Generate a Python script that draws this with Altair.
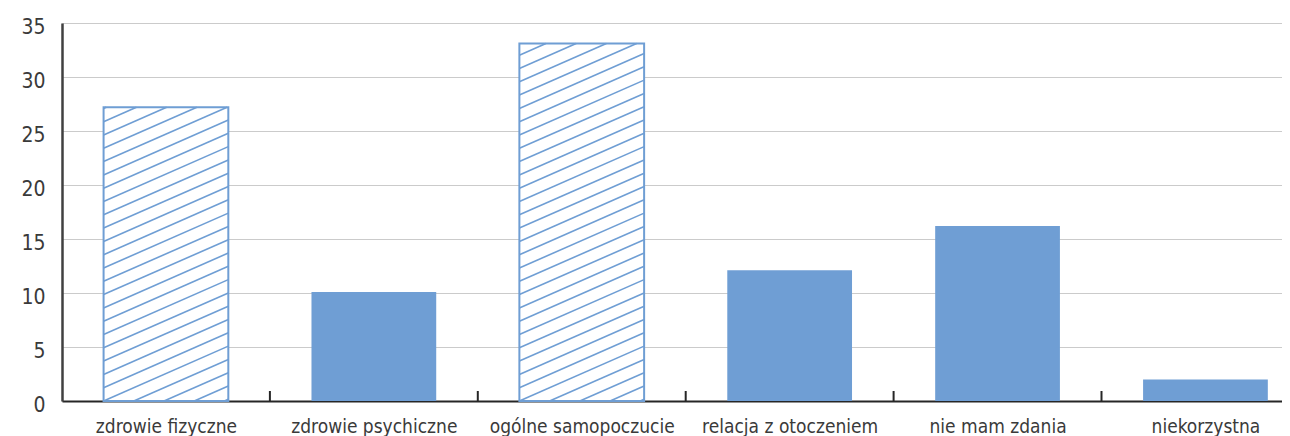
import altair as alt
import pandas as pd
import numpy as np

# ---- data ----
categories = ["zdrowie fizyczne", "zdrowie psychiczne", "ogólne samopoczucie",
              "relacja z otoczeniem", "nie mam zdania", "niekorzystna"]
values = [27.2, 10.1, 33.1, 12.1, 16.2, 2.0]
hatched = [True, False, True, False, False, False]
y_ticks = [0, 5, 10, 15, 20, 25, 30, 35]

# ---- style constants ----
BLUE = "#6f9ed4"
FONT = "DejaVu Sans Condensed, Liberation Sans Narrow, sans-serif"
LABEL_COLOR = "#3a3a3a"
BAND_PX = 207.9
PLOT_W = 1220
PLOT_H = 378
X_MAX = PLOT_W / BAND_PX        # right side of the last band is cut off
BAR_GAP = 0.2                   # fraction of band left empty on each side
HATCH_SLOPE = 0.44 * BAND_PX / (PLOT_H / 35)   # 0.44 px/px in data units
HATCH_DV = 13.3 / (PLOT_H / 35)                # vertical spacing, data units

rows = []
for i, (c, v, h) in enumerate(zip(categories, values, hatched)):
    rows.append(dict(cat=c, value=v, x0=i + BAR_GAP, x1=i + 1 - BAR_GAP,
                     zero=0.0, hatched=h))
bars = pd.DataFrame(rows)

# hatch segments clipped to each hatched bar
segs = []
for r in rows:
    if not r["hatched"]:
        continue
    xl, xr, top = r["x0"], r["x1"], r["value"]
    w = xr - xl
    kmin = -int(np.ceil(HATCH_SLOPE * w / HATCH_DV)) - 1
    kmax = int(np.ceil(top / HATCH_DV)) + 1
    for k in range(kmin, kmax + 1):
        c = k * HATCH_DV
        xa = max(xl, xl + (0 - c) / HATCH_SLOPE)
        xb = min(xr, xl + (top - c) / HATCH_SLOPE)
        if xb - xa > 1e-6:
            segs.append(dict(x=xa, y=HATCH_SLOPE * (xa - xl) + c,
                             x2=xb, y2=HATCH_SLOPE * (xb - xl) + c))
hatch = pd.DataFrame(segs)

bounds = pd.DataFrame({"b": list(range(1, len(categories)))})

label_arr = "[" + ",".join("'" + c + "'" for c in categories) + "]"

xscale = alt.Scale(domain=[0, X_MAX], nice=False, zero=False)
yscale = alt.Scale(domain=[0, 35], nice=False)

x_axis = alt.Axis(values=[i + 0.5 for i in range(len(categories))],
                  labelExpr=label_arr + "[floor(datum.value)]",
                  ticks=False, grid=False, domain=True,
                  domainColor="#262626", domainWidth=2,
                  labelFont=FONT, labelFontSize=19, labelColor=LABEL_COLOR,
                  labelPadding=16, labelLimit=0, title=None, labelOverlap=False)
y_axis = alt.Axis(values=y_ticks, ticks=False, grid=True,
                  gridColor="#cbcbcb", gridWidth=1,
                  domain=True, domainColor="#404040", domainWidth=2.5,
                  labelFont=FONT, labelFontSize=21, labelColor=LABEL_COLOR,
                  labelPadding=17, labelOffset=4, title=None)

solid = alt.Chart(bars).transform_filter("!datum.hatched").mark_bar(
    color=BLUE
).encode(
    x=alt.X("x0:Q", scale=xscale, axis=x_axis),
    x2="x1:Q",
    y=alt.Y("value:Q", scale=yscale, axis=y_axis),
    y2="zero:Q",
)

outline = alt.Chart(bars).transform_filter("datum.hatched").mark_bar(
    fill="white", stroke=BLUE, strokeWidth=2
).encode(
    x=alt.X("x0:Q", scale=xscale),
    x2="x1:Q",
    y=alt.Y("value:Q", scale=yscale),
    y2="zero:Q",
)

lines = alt.Chart(hatch).mark_rule(color=BLUE, strokeWidth=1.6).encode(
    x=alt.X("x:Q", scale=xscale),
    x2="x2:Q",
    y=alt.Y("y:Q", scale=yscale),
    y2="y2:Q",
)

ticks = alt.Chart(bounds).mark_rule(color="#262626", strokeWidth=2).encode(
    x=alt.X("b:Q", scale=xscale),
    y=alt.value(PLOT_H - 10),
    y2=alt.value(PLOT_H),
)

chart = alt.layer(outline, lines, solid, ticks).properties(
    width=PLOT_W, height=PLOT_H,
    autosize=alt.AutoSizeParams(type="none"),
    padding={"left": 54, "top": 15, "right": 0, "bottom": 35},
).configure_view(stroke=None).configure(background="white")

chart.save("out.html", embed_options={"renderer": "svg", "actions": False})
